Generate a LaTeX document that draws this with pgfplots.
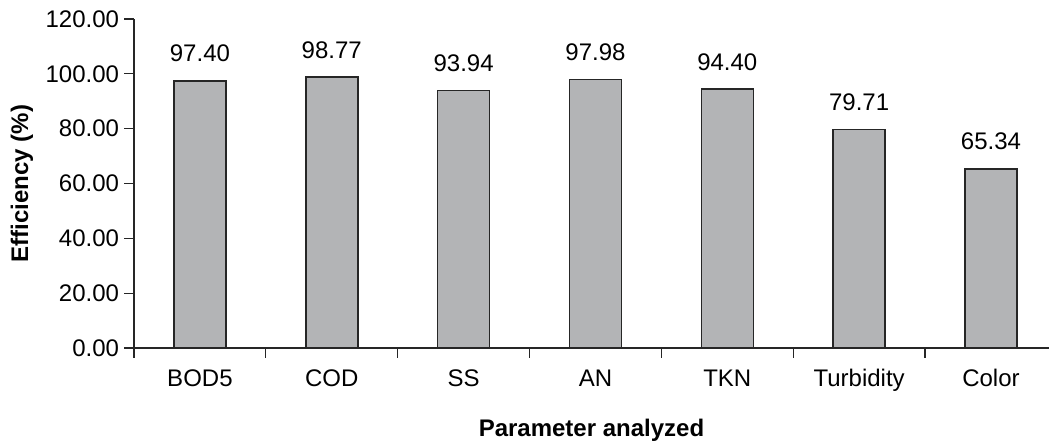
\documentclass[border=0pt]{standalone}
\usepackage{fontspec}
\setmainfont{Liberation Sans}
\usepackage{pgfplots}
\pgfplotsset{compat=1.18}
\definecolor{barfill}{RGB}{179,180,182}
\begin{document}
\fontsize{12}{14.4}\selectfont
\begin{tikzpicture}
% fixed page frame around the plot area
\path[use as bounding box] (-67pt,-49.5pt) rectangle (458pt,174pt);
\begin{axis}[
  at={(0,0)}, anchor=south west,
  scale only axis,
  width=457.5pt, height=164.5pt,
  xmin=-0.5, xmax=6.44,
  ymin=0, ymax=120,
  axis x line=bottom, axis y line=left,
  axis line style={-, line width=0.6pt, black!85},
  tick align=outside,
  major tick length=4.8pt,
  tick style={line width=0.6pt, black!85},
  xtick={-0.5,0.5,...,5.5},
  xticklabels={},
  extra x ticks={0,1,2,3,4,5,6},
  extra x tick labels={BOD5,COD,SS,AN,TKN,Turbidity,Color},
  extra x tick style={major tick length=0pt,
    xticklabel style={anchor=base, yshift=-19pt}},
  ytick={0,20,...,120},
  /pgf/number format/assume math mode=true,
  yticklabel={\pgfmathprintnumber[fixed,fixed zerofill,precision=2]{\tick}},
  yticklabel style={xshift=1.5pt},
  xlabel={\textbf{Parameter analyzed}},
  ylabel={\textbf{Efficiency (\%)}},
  xlabel style={at={(axis description cs:0.5,0)}, anchor=center, yshift=-41pt},
  ylabel style={at={(axis description cs:0,0.5)}, anchor=center, yshift=56pt},
  ybar, bar width=26pt,
  nodes near coords={\pgfmathprintnumber[fixed,fixed zerofill,precision=2]{\pgfplotspointmeta}},
  nodes near coords style={anchor=south, yshift=5pt},
  clip=false,
]
\addplot[fill=barfill, draw=black!85, line width=0.8pt] coordinates {
  (0,97.40) (1,98.77) (2,93.94) (3,97.98) (4,94.40) (5,79.71) (6,65.34)
};
\end{axis}
\end{tikzpicture}
\end{document}
